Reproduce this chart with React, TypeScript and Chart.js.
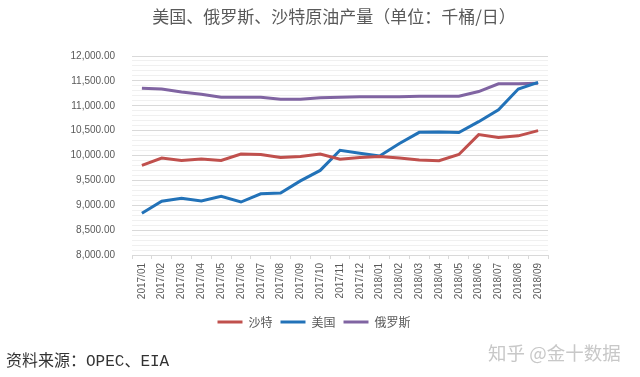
import React, { useEffect, useRef } from "react";
import { Chart, registerables } from "chart.js";

Chart.register(...registerables);

const months = [
  "2017/01", "2017/02", "2017/03", "2017/04", "2017/05", "2017/06", "2017/07",
  "2017/08", "2017/09", "2017/10", "2017/11", "2017/12", "2018/01", "2018/02",
  "2018/03", "2018/04", "2018/05", "2018/06", "2018/07", "2018/08", "2018/09",
];

const saudi = [
  9800, 9950, 9900, 9930, 9900, 10030, 10020, 9960, 9980, 10030, 9925, 9960,
  9980, 9950, 9910, 9895, 10020, 10420, 10360, 10395, 10500,
];

const usa = [
  8840, 9080, 9140, 9085, 9180, 9065, 9230, 9245, 9490, 9700, 10105, 10045,
  9990, 10240, 10465, 10470, 10460, 10680, 10920, 11335, 11470,
];

const russia = [
  11350, 11335, 11275, 11230, 11170, 11170, 11170, 11130, 11130, 11160, 11170,
  11180, 11180, 11180, 11190, 11190, 11190, 11285, 11440, 11440, 11450,
];

const seriesNames = ["沙特", "美国", "俄罗斯"];
const yMin = 8000;
const yMax = 12000;
const yMinorStep = 100;
const yMajorStep = 500;

const titleText = "美国、俄罗斯、沙特原油产量（单位：千桶/日）";
const sourceText = "资料来源：OPEC、EIA";
const watermarkText = "知乎 @金十数据";

const legendShift = {
  id: "legendShift",
  afterLayout(chart: any) {
    const lg = chart.legend;
    if (lg) {
      lg.left = 80;
      lg.width = lg.right - lg.left;
    }
  },
};

export default function App() {
  const canvasRef = useRef<HTMLCanvasElement | null>(null);

  useEffect(() => {
    const canvas = canvasRef.current;
    if (!canvas) return;
    const chart = new Chart(canvas, {
      type: "line",
      data: {
        labels: months,
        datasets: [
          { label: seriesNames[0], data: saudi, borderColor: "#C0504D", backgroundColor: "#C0504D" },
          { label: seriesNames[1], data: usa, borderColor: "#2272B8", backgroundColor: "#2272B8" },
          { label: seriesNames[2], data: russia, borderColor: "#8064A2", backgroundColor: "#8064A2" },
        ].map((d) => ({ ...d, borderWidth: 3, pointRadius: 0, tension: 0, fill: false })),
      },
      plugins: [legendShift],
      options: {
        responsive: false,
        animation: false,
        layout: { padding: { left: 30, right: 92, top: 56, bottom: 39 } },
        plugins: {
          title: { display: false },
          tooltip: { enabled: false },
          legend: {
            position: "bottom",
            labels: {
              usePointStyle: true,
              pointStyle: "line",
              pointStyleWidth: 25,
              boxWidth: 25,
              padding: 8,
              color: "#595959",
              font: { family: "'Noto Sans CJK SC', sans-serif", size: 12 },
            },
          },
        },
        scales: {
          x: {
            type: "category",
            offset: true,
            afterFit: (scale: any) => {
              scale.height = 53;
            },
            border: { color: "#d9d9d9", width: 1 },
            grid: {
              display: true,
              drawOnChartArea: false,
              drawTicks: true,
              tickLength: 4,
              offset: true,
              color: "#d9d9d9",
            },
            ticks: {
              autoSkip: false,
              minRotation: 90,
              maxRotation: 90,
              padding: 4,
              color: "#595959",
              font: { family: "'Liberation Sans', sans-serif", size: 10 },
            },
          },
          y: {
            type: "linear",
            min: yMin,
            max: yMax,
            afterFit: (scale: any) => {
              scale.width = 102;
            },
            afterBuildTicks: (scale: any) => {
              const t: { value: number }[] = [];
              for (let v = yMin; v <= yMax; v += yMinorStep) t.push({ value: v });
              scale.ticks = t;
            },
            border: { display: false },
            grid: {
              drawTicks: false,
              color: (ctx: any) =>
                ctx.tick && ctx.tick.value % yMajorStep === 0 ? "#d9d9d9" : "#f0f0f0",
            },
            ticks: {
              autoSkip: false,
              padding: 17,
              color: "#595959",
              font: { family: "'Liberation Sans', sans-serif", size: 10 },
              callback: (value: any) => {
                const v = Number(value);
                if (v % yMajorStep !== 0) return "";
                return v.toLocaleString("en-US", { minimumFractionDigits: 2, maximumFractionDigits: 2 });
              },
            },
          },
        },
      },
    });
    return () => chart.destroy();
  }, []);

  return (
    <div style={{ position: "absolute", left: 0, top: 0, width: 640, height: 377, background: "#fff", overflow: "hidden" }}>
      <canvas ref={canvasRef} width={640} height={377} style={{ position: "absolute", left: 0, top: 0 }} />
      <div
        style={{
          position: "absolute", left: 0, top: 5, width: 668, textAlign: "center",
          fontFamily: "'Noto Sans CJK SC', sans-serif", fontSize: 17, lineHeight: "22px", color: "#595959",
        }}
      >
        {titleText}
      </div>
      <div
        style={{
          position: "absolute", left: 6, top: 351, whiteSpace: "nowrap",
          fontFamily: "'Liberation Mono', 'Noto Sans CJK SC', monospace", fontSize: 16, lineHeight: "22px", color: "#333",
        }}
      >
        {sourceText}
      </div>
      <div
        style={{
          position: "absolute", left: 488, top: 340, whiteSpace: "nowrap",
          fontFamily: "'Noto Sans CJK SC', sans-serif", fontSize: 18.5, lineHeight: "24px", color: "#c8c8c8",
        }}
      >
        {watermarkText}
      </div>
    </div>
  );
}
